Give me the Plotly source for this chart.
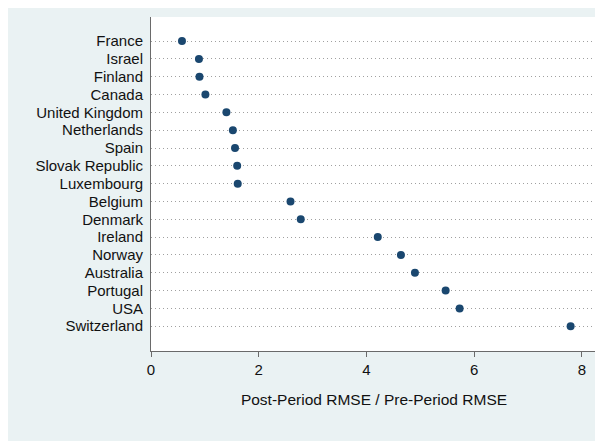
import plotly.graph_objects as go

countries = ["France", "Israel", "Finland", "Canada", "United Kingdom", "Netherlands",
             "Spain", "Slovak Republic", "Luxembourg", "Belgium", "Denmark", "Ireland",
             "Norway", "Australia", "Portugal", "USA", "Switzerland"]
ratios = [0.575, 0.89, 0.90, 1.01, 1.40, 1.52, 1.56, 1.60, 1.61, 2.59, 2.78, 4.21,
          4.64, 4.90, 5.47, 5.73, 7.79]
x_ticks = [0, 2, 4, 6, 8]
x_title = "Post-Period RMSE / Pre-Period RMSE"

# page body has an 8px margin, so the figure is sized to fit the window
W, H = 595, 433
L, R, T, B = 143, 6, 9, 90

fig = go.Figure()
fig.add_trace(go.Scatter(
    x=ratios, y=countries, mode="markers",
    marker=dict(color="#1a476f", size=8),
    showlegend=False, cliponaxis=False,
))

font = dict(family="Arial, Liberation Sans, sans-serif", color="#111111")

fig.update_layout(
    width=W, height=H,
    margin=dict(l=L, r=R, t=T, b=B),
    paper_bgcolor="#EAF2F3",
    plot_bgcolor="white",
    font=dict(size=15, **font),
    xaxis=dict(
        range=[0, 8.28], tickmode="array", tickvals=x_ticks,
        ticktext=[str(v) for v in x_ticks],
        showgrid=False, zeroline=False, automargin=False,
        showline=True, linecolor="#6a6a6a", linewidth=1,
        ticks="outside", ticklen=5, tickcolor="#6a6a6a", tickwidth=1,
        tickfont=dict(size=15),
        title=dict(text=x_title, font=dict(size=15.5), standoff=17),
    ),
    yaxis=dict(
        type="category", categoryorder="array", categoryarray=countries,
        tickmode="array", tickvals=countries, ticktext=countries,
        range=[16 + 1.39, -1.35], automargin=False,
        showgrid=True, gridcolor="#a0a0a0", gridwidth=1, griddash="1px,3px",
        zeroline=False,
        showline=True, linecolor="#6a6a6a", linewidth=1,
        ticks="", ticklabelstandoff=4,
        tickfont=dict(size=15),
    ),
)

fig.write_html("out.html")
